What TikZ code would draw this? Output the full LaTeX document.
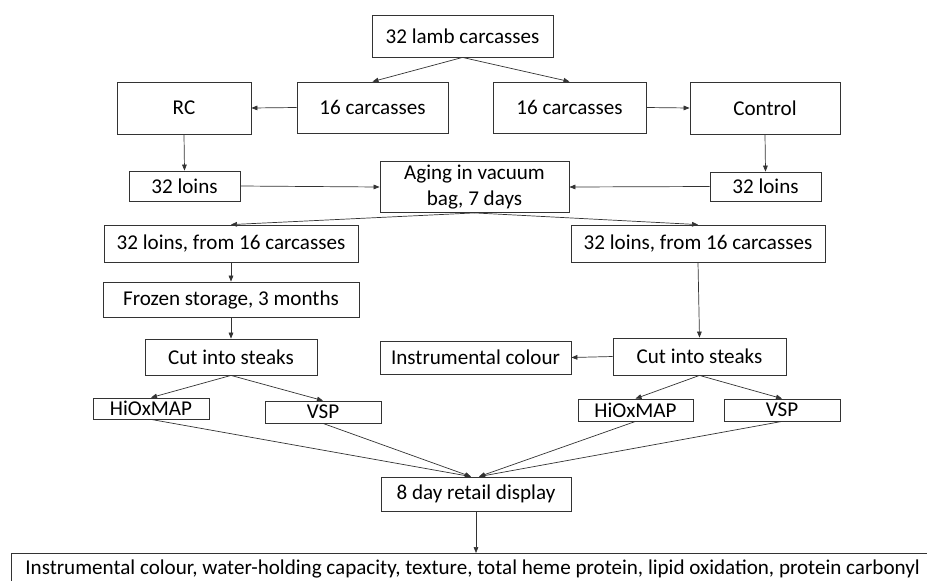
\documentclass[tikz,border=0pt]{standalone}
\usepackage{fontspec}
\setmainfont{Carlito}
\usetikzlibrary{arrows.meta,calc}
\definecolor{boxline}{HTML}{333333}

\begin{document}
\begin{tikzpicture}[x=0.03cm,y=-0.03cm,font=\fontsize{18}{21.5}\selectfont,
  >={Triangle[length=1.8mm,width=1.4mm]},
  box/.style={draw=boxline,line width=0.7pt,inner sep=0pt,align=center},
  wh/.style 2 args={minimum width=#1*0.03cm,minimum height=#2*0.03cm},
  flow/.style={->,draw=boxline,line width=0.6pt}]

\useasboundingbox (0,0) rectangle (927,580);
\clip (0,0) rectangle (927,580);

% ---- carcasses and treatment ----
\node[box,wh={181}{42}] (lamb) at (462.5,36) {32 lamb carcasses};
\node[box,wh={151}{51}] (halfL) at (372.5,107.5) {16 carcasses};
\node[box,wh={153}{51}] (halfR) at (569.5,107.5) {16 carcasses};
\node[box,wh={134}{52}] (rc) at (184,108) {RC};
\node[box,wh={150}{52}] (ctrl) at (765,108) {Control};

% ---- loins and aging ----
\node[box,wh={111}{30}] (loinsL) at (184.5,186) {32 loins};
\node[box,wh={189}{51}] (aging) at (474.5,187) {Aging in vacuum\\bag, 7 days};
\node[box,wh={111}{29}] (loinsR) at (765.5,186.5) {32 loins};

% ---- left branch (frozen) ----
\node[box,wh={254}{37}] (fromL) at (231,243.5) {32 loins, from 16 carcasses};
\node[box,wh={256}{35}] (frozen) at (231,299.5) {Frozen storage, 3 months};
\node[box,wh={172}{36}] (cutL) at (231,357) {Cut into steaks};
\node[box,wh={116}{21}] (hioxL) at (151,408.5) {HiOxMAP};
\node[box,wh={116}{22}] (vspL) at (323,412) {VSP};

% ---- right branch (fresh) ----
\node[box,wh={254}{37}] (fromR) at (698,243.5) {32 loins, from 16 carcasses};
\node[box,wh={173}{37}] (cutR) at (699.5,356.5) {Cut into steaks};
\node[box,wh={191}{33}] (instr) at (475.5,357.5) {Instrumental colour};
\node[box,wh={115}{22}] (hioxR) at (635.5,410) {HiOxMAP};
\node[box,wh={116}{22}] (vspR) at (782,410) {VSP};

% ---- display and measurements ----
\node[box,wh={190}{34}] (retail) at (476,494) {8 day retail display};
\node[box,anchor=north west,inner xsep=0.42cm,minimum height=0.96cm] (meas) at (11,553)
  {Instrumental colour, water-holding capacity, texture, total heme protein, lipid oxidation, protein carbonyl};

% ---- connectors ----
\draw[flow] (lamb.south) -- (halfL.north);
\draw[flow] (lamb.south) -- (halfR.north);
\draw[flow] (halfL.west) -- (rc.east);
\draw[flow] (halfR.east) -- (ctrl.west);
\draw[flow] (rc.south) -- (loinsL.north);
\draw[flow] (ctrl.south) -- (loinsR.north);
\draw[flow] (loinsL.east) -- (aging.west);
\draw[flow] (loinsR.west) -- (aging.east);
\draw[flow] (aging.south) -- (fromL.north);
\draw[flow] (aging.south) -- (fromR.north);
\draw[flow] (fromL.south) -- (frozen.north);
\draw[flow] (frozen.south) -- (cutL.north);
\draw[flow] (fromR.south) -- (cutR.north);
\draw[flow] (cutR.west) -- (instr.east);
\draw[flow] (cutL.south) -- (hioxL.north);
\draw[flow] (cutL.south) -- (vspL.north);
\draw[flow] (cutR.south) -- (hioxR.north);
\draw[flow] (cutR.south) -- (vspR.north);
\draw[flow] (hioxL.south) -- ($(retail.north)+(-5,0)$);
\draw[flow] (vspL.south) -- ($(retail.north)+(-5,0)$);
\draw[flow] (hioxR.south) -- ($(retail.north)+(3,0)$);
\draw[flow] (vspR.south) -- ($(retail.north)+(3,0)$);
\draw[flow] (retail.south) -- (retail.south |- meas.north);

\end{tikzpicture}
\end{document}
